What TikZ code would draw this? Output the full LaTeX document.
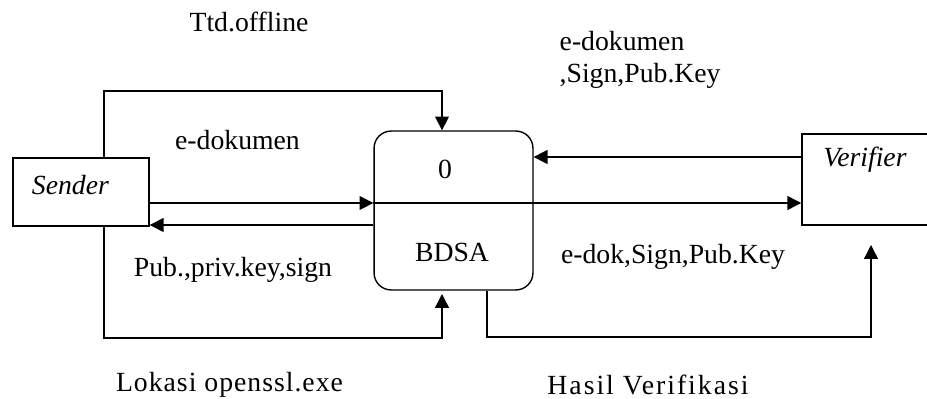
\documentclass[tikz,border=0pt]{standalone}
\usepackage{fontspec}
\setmainfont{Liberation Serif}
\usepackage{tikz}
\usetikzlibrary{arrows.meta}

\begin{document}
\begin{tikzpicture}[x=0.433pt, y=-0.433pt, line width=0.6pt,
  >={Triangle[length=6pt, width=6pt]},
  every node/.style={font=\fontsize{12}{14}\selectfont, inner sep=0pt},
  entity/.style={draw, minimum width=58.9pt, minimum height=29.4pt},
  process/.style={draw, rounded corners=7.4pt, minimum width=68.8pt, minimum height=68.8pt}]
\useasboundingbox (0,0) rectangle (927,399);
\node[entity] at (81, 192)      (sender)   {};
\node[process] at (453.5, 210.5) (bdsa)    {};
\node[entity, minimum width=59.8pt, minimum height=39.4pt] at (871, 179.5) (verifier) {};
\node at (70.5, 185) (sendername)   {\textit{Sender}};
\node at (865, 160)  (verifiername) {\textit{Verifier}};
\node at (445, 169)  (num)          {0};
\node at (452, 252)  (bdsaname)     {BDSA};
\coordinate (mid)  at (453, 203);
\coordinate (back) at (0, 225);
\coordinate (ver)  at (0, 157);
\coordinate (ttdc) at (104, 91);
\coordinate (ttde) at (442, 91);
\coordinate (lokc) at (104, 338);
\coordinate (loke) at (442, 338);
\coordinate (lokt) at (442, 294);
\coordinate (hasc) at (487, 337);
\coordinate (hase) at (871, 337);
\coordinate (hast) at (871, 245);
\draw (bdsa.west |- mid) -- (bdsa.east |- mid);
\draw[->] (sender.east |- mid)  -- (bdsa.west |- mid);
\draw[->] (bdsa.east |- mid)    -- (verifier.west |- mid);
\draw[->] (bdsa.west |- back)   -- (sender.east |- back);
\draw[->] (verifier.west |- ver) -- (bdsa.east |- ver);
\draw[->] (sender.north -| ttdc) -- (ttdc) -- (ttde) -- (bdsa.north -| ttde);
\draw[->] (sender.south -| lokc) -- (lokc) -- (loke) -- (lokt);
\draw[->] (bdsa.south -| hasc)   -- (hasc) -- (hase) -- (hast);
% flow labels
\node at (249, 22)   (ttd)    {Ttd.offline};
\node[anchor=west, align=left] at (559, 60) (edokv) {e-dokumen\\,Sign,Pub.Key};
\node at (237.5, 140) (edok)  {e-dokumen};
\node at (233, 270)  (keys)   {Pub.,priv.key,sign};
\node at (673, 257)  (edoks)  {e-dok,Sign,Pub.Key};
\node at (229.5, 385) (lokasi) {\addfontfeature{LetterSpace=3.6}Lokasi openssl.exe};
\node at (648, 385)  (hasil)  {\addfontfeature{LetterSpace=7.2}Hasil Verifikasi};
\end{tikzpicture}
\end{document}
